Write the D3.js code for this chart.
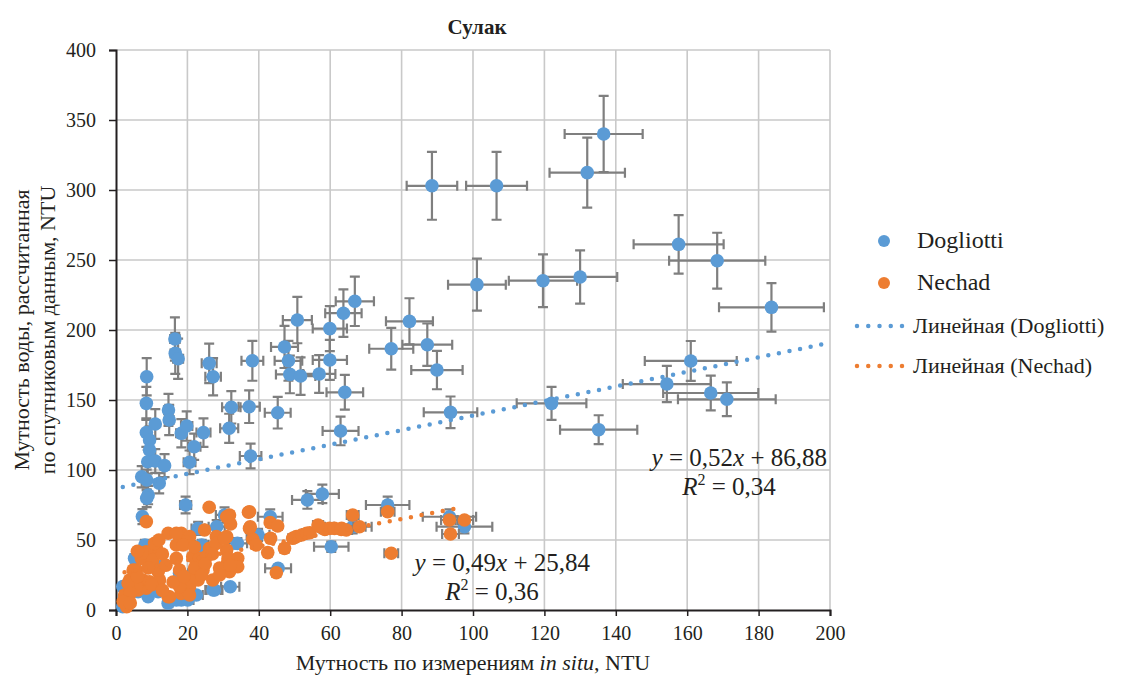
<!DOCTYPE html>
<html><head><meta charset="utf-8">
<script src="https://cdn.jsdelivr.net/npm/d3@7"></script>
<style>
html,body{margin:0;padding:0;background:#fff;}
</style></head>
<body><svg id="chart" width="1139" height="675" font-family="Liberation Serif"></svg>
<script>
// ---- data ----
const title = "Сулак";
const xTicks = [0,20,40,60,80,100,120,140,160,180,200];
const yTicks = [0,50,100,150,200,250,300,350,400];
const seriesNames = ["Dogliotti","Nechad"];
const trendNames = ["Линейная (Dogliotti)","Линейная (Nechad)"];
const dogliottiX = [136.6,132,88.5,106.6,157.6,168.4,183.6,119.6,130,161,154.3,166.6,171.1,122,135.2,101.1,66.9,63.7,82.2,77.1,87.2,89.9,50.8,59.9,47.2,48.3,59.9,38.2,48.7,51.7,56.9,16.5,16.6,17.4,26.1,27.2,8.6,64.1,8.5,14.7,14.9,32.3,37.3,45.3,31.7,62.9,11,8.5,9.4,9.4,8.9,11,18.3,19.8,24.5,21.9,20.6,13.6,37.7,7.2,8.6,12.1,9,8.6,19.5,7.4,53.6,57.8,43.2,30.4,34,60.3,45.4,27.6,32,93.7,76.1,66.3,93.4,97.6,5.2,6.2,11.8,14.6,18.3,22.5,27.2,1.9,1.9,23,24,28.2,7.6,8.1,39.8,16.9,20.1,2.4,9,24.5,12.5,17.8,22];
const dogliottiY = [340,312.4,303,303,261.2,249.5,216.2,235.2,237.9,177.9,161.4,155,150.5,147.6,128.8,232.4,220.5,212,206.2,186.6,189.5,171.4,207.1,201,187.9,178,178.6,178,168.3,167.1,168.6,193.6,183.3,179.5,176.2,166.6,166.6,155.5,147.6,142.9,135.7,144.8,145.2,140.9,129.8,127.9,132.9,126.7,121.4,114.3,105.9,106.4,126.2,131.4,126.7,116.6,105.5,103.1,110,95.2,92.9,90.5,82.1,79.8,75,66.7,78.6,82.9,66.6,67.9,47.6,45.2,29.8,14.3,16.6,141.2,75,59.5,66.6,59.5,36.9,13.1,13.1,4.8,7.1,10.7,14.3,2.4,16.7,58.3,46.4,59.5,40.5,46.4,53.6,7.1,7.1,7.1,9.5,45.2,31,26.2,26.2];
const nechadX = [66.3,63.2,76.1,77.1,93.4,97.6,93.7,49.5,50.5,52,53.4,54.3,57.1,58.5,59.8,61.2,63.1,64.5,68.2,37.1,31.8,32.1,37.4,43.2,45.3,43.3,38.3,39.3,42.5,47.2,44.9,34.1,34.1,31.8,31.3,31,31,26.1,8.5,14.6,18.3,20.6,24.8,28.1,31,11.3,8.5,7.1,10.3,16.9,19.7,16.9,21.5,23.4,26.2,28.1,30.4,31.4,5.7,3.8,7.5,11.8,12.2,17.8,18.7,20.6,23,27.1,2.4,6.2,8.5,15,18.3,20.6,3,37.4,37.6,56.6,5.7,9.4,11.8,14.6,17.8,21.6,24.4,25.3,18.8,16.9,10.8,7.2,4.8,3.4,13,14,9,6,4,10,13,22,25,27,29,22,12,6,2,4,16,19,24,29,32];
const nechadY = [67.9,58.3,70.2,40.5,64.3,64.3,54.3,51.2,52.4,53.6,54.8,55.2,59.5,57.6,58.3,58.3,57.6,57.1,59.5,69.8,67.9,61.4,58.3,62.4,60,51.2,50.5,46.4,41,44,26.6,36.9,30.9,27.4,34.5,52.4,42.9,73.4,63.1,54.8,54.8,52.4,57.1,52.4,66.6,44,41.6,36.9,35.7,46.4,48.8,36.9,38.1,36.9,44,47.6,51.2,36.9,28.6,21.4,21.4,27.4,21.4,28.6,21.4,16.7,21.4,21.4,10.7,14.3,15.5,9.5,11.9,10.7,2.4,70.2,59.5,60.7,16.7,20.2,28.6,9.5,16.7,23.8,28.6,38.1,46.4,54.8,47.6,40.5,28.6,19,40,32,30,24,12,18,14,30,33,40,30,45,50,42,6,5,20,24,25,25,32];
const errorPct = [8, 2.5];           // percentage error bars (x and y)
const trendSlope = [0.52, 0.49];
const trendIntercept = [86.88, 25.84];
const trendXRange = [[1.9, 200], [2.4, 96]];
const eqLabels = ["= 0,52", "= 0,49"];
const eqConst = ["+ 86,88", "+ 25,84"];
const r2Labels = ["= 0,34", "= 0,36"];
const colors = ["#5b9bd5", "#ed7d31"];

// ---- layout ----
const FONT = "Liberation Serif";
const TXT = "#231f20";
const svg = d3.select("#chart");
const L = 116, R = 830, T = 50, B = 610;
const x = d3.scaleLinear().domain([0,200]).range([L,R]);
const y = d3.scaleLinear().domain([0,400]).range([B,T]);

function txt(sel, size){
  return sel.append("text").attr("font-family",FONT).attr("font-size",size).attr("fill",TXT);
}

// gridlines
svg.append("g").selectAll("line").data(xTicks.slice(1)).join("line")
  .attr("x1",d=>x(d)).attr("x2",d=>x(d)).attr("y1",T).attr("y2",B)
  .attr("stroke","#c9c9c9").attr("stroke-width",1.6);
svg.append("g").selectAll("line").data(yTicks.slice(1)).join("line")
  .attr("x1",L).attr("x2",R).attr("y1",d=>y(d)).attr("y2",d=>y(d))
  .attr("stroke","#c9c9c9").attr("stroke-width",1.6);

// axes
const xAxis = svg.append("g").attr("transform",`translate(0,${B})`)
  .call(d3.axisBottom(x).tickValues(xTicks).tickSize(6).tickPadding(6));
const yAxis = svg.append("g").attr("transform",`translate(${L},0)`)
  .call(d3.axisLeft(y).tickValues(yTicks).tickSize(7).tickPadding(13));
[xAxis,yAxis].forEach(a=>{
  a.attr("font-family",FONT).attr("font-size",20);
  a.select(".domain").attr("stroke","#231f20").attr("stroke-width",2);
  a.selectAll(".tick line").attr("stroke","#231f20").attr("stroke-width",1.5);
  a.selectAll("text").attr("font-family",FONT).attr("font-size",20).attr("fill",TXT);
});
xAxis.selectAll("text").attr("dy","0.9em");

// series
const series = [
  d3.zip(dogliottiX, dogliottiY),
  d3.zip(nechadX, nechadY)
];
const cap = 5;
series.forEach((pts,i)=>{
  const g = svg.append("g");
  const e = errorPct[i]/100;
  const eb = g.append("g").attr("stroke","#7f7f7f").attr("stroke-width",2.2).attr("fill","none");
  pts.forEach(([px,py])=>{
    const x0=x(px*(1-e)), x1=x(px*(1+e)), y0=y(py*(1-e)), y1=y(py*(1+e)), cx=x(px), cy=y(py);
    eb.append("path").attr("d",
      `M${x0},${cy}H${x1}M${x0},${cy-cap}V${cy+cap}M${x1},${cy-cap}V${cy+cap}`+
      `M${cx},${y0}V${y1}M${cx-cap},${y0}H${cx+cap}M${cx-cap},${y1}H${cx+cap}`);
  });
  g.append("g").selectAll("circle").data(pts).join("circle")
    .attr("cx",d=>x(d[0])).attr("cy",d=>y(d[1])).attr("r",6.8).attr("fill",colors[i]);
});

// trendlines
trendSlope.forEach((m,i)=>{
  const xs = trendXRange[i];
  svg.append("line")
    .attr("x1",x(xs[0])).attr("y1",y(m*xs[0]+trendIntercept[i]))
    .attr("x2",x(xs[1])).attr("y2",y(m*xs[1]+trendIntercept[i]))
    .attr("stroke",colors[i]).attr("stroke-width",4.5)
    .attr("stroke-linecap","round").attr("stroke-dasharray","0 10.8");
});

// equation labels
function eq(xr, yb, i){
  const t = txt(svg,25).attr("x",xr).attr("y",yb).attr("text-anchor","end");
  t.append("tspan").attr("font-style","italic").text("y");
  t.append("tspan").text(" " + eqLabels[i]);
  t.append("tspan").attr("font-style","italic").text("x");
  t.append("tspan").text(" " + eqConst[i]);
}
function r2(xc, yb, i){
  const t = txt(svg,25).attr("x",xc).attr("y",yb).attr("text-anchor","middle");
  t.append("tspan").attr("font-style","italic").text("R");
  t.append("tspan").attr("dy",-10).attr("font-size",16).text("2");
  t.append("tspan").attr("dy",10).text(" " + r2Labels[i]);
}
eq(827, 466, 0); r2(729, 495, 0);
eq(590, 571, 1); r2(492, 600, 1);

// title
txt(svg,21).attr("x",477).attr("y",34).attr("text-anchor","middle")
  .attr("font-weight","bold").text(title);

// axis titles
const xt = txt(svg,22).attr("x",473).attr("y",670).attr("text-anchor","middle");
xt.append("tspan").text("Мутность по измерениям ");
xt.append("tspan").attr("font-style","italic").text("in situ");
xt.append("tspan").text(", NTU");
txt(svg,22).attr("transform","translate(29,330) rotate(-90)").attr("text-anchor","middle")
  .text("Мутность воды, рассчитанная");
txt(svg,22).attr("transform","translate(55,330) rotate(-90)").attr("text-anchor","middle")
  .text("по спутниковым данным, NTU");

// legend
const lg = svg.append("g");
[0,1].forEach(i=>{
  const yy = [241,283][i];
  lg.append("circle").attr("cx",884).attr("cy",yy).attr("r",6).attr("fill",colors[i]);
  txt(lg,24).attr("x",917).attr("y",yy+7).text(seriesNames[i]);
});
[0,1].forEach(i=>{
  const yy = [326,366][i];
  lg.append("line").attr("x1",857).attr("x2",903).attr("y1",yy).attr("y2",yy)
    .attr("stroke",colors[i]).attr("stroke-width",4.5).attr("stroke-linecap","round").attr("stroke-dasharray","0 11.25");
  txt(lg,22).attr("x",913).attr("y",yy+7).text(trendNames[i]);
});
</script></body></html>
